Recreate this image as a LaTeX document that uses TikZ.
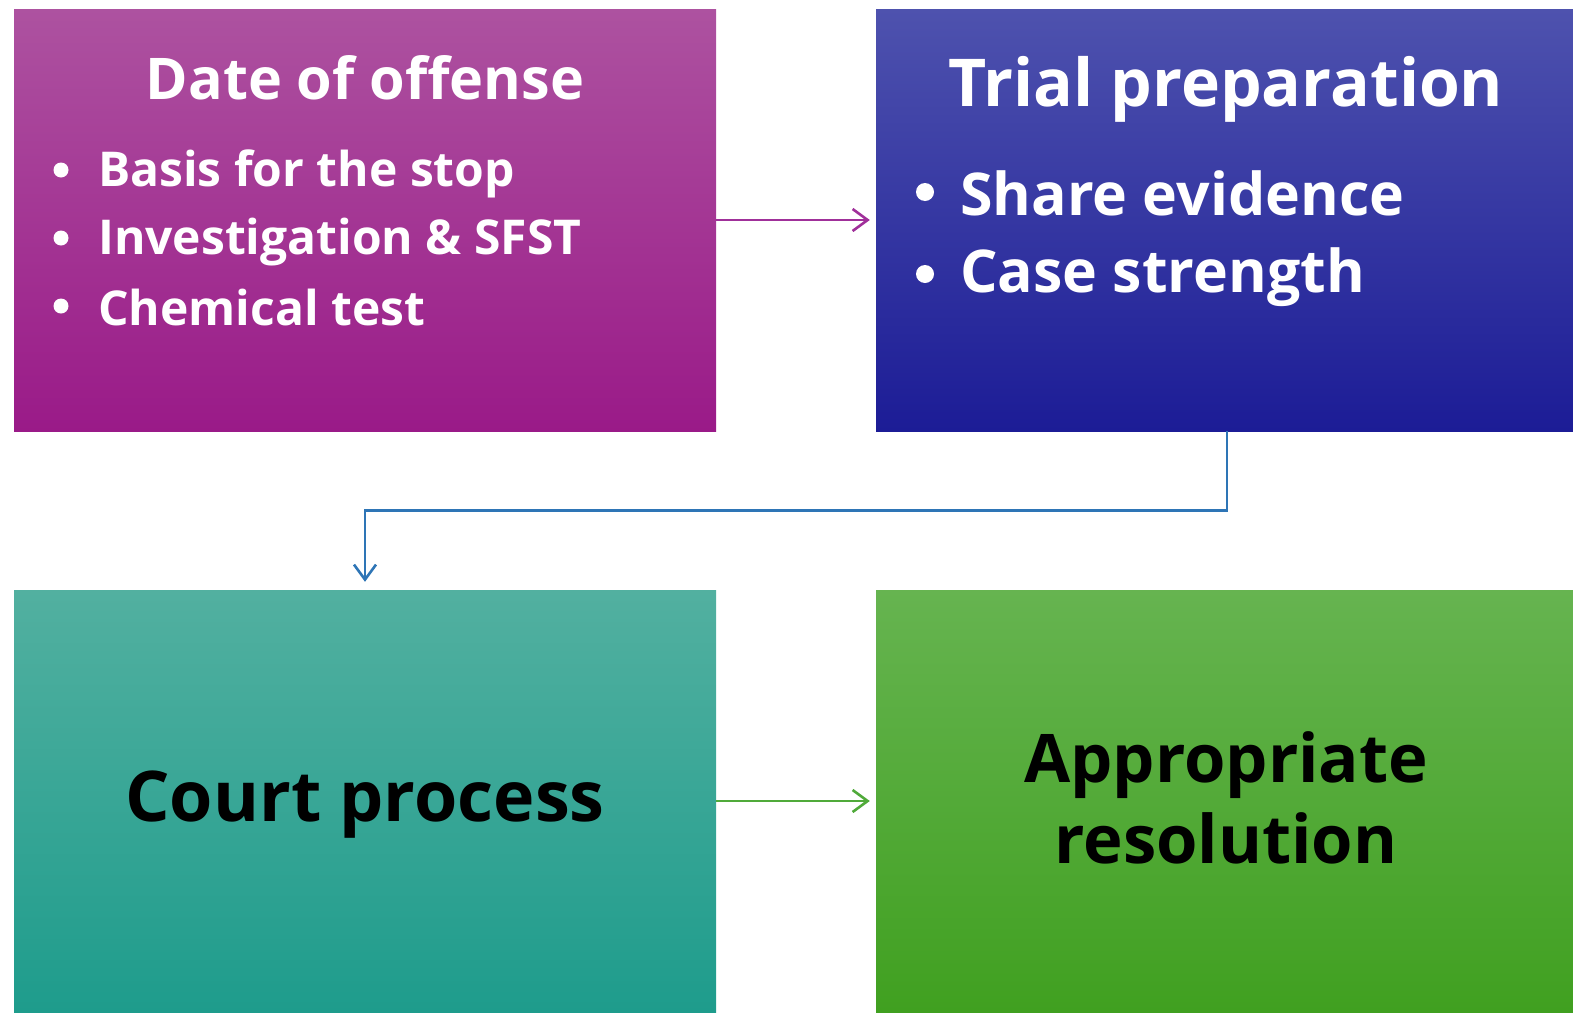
\documentclass[tikz,border=0pt]{standalone}
\usepackage{fontspec}
\setmainfont{Open Sans}
\usetikzlibrary{arrows.meta}
\definecolor{aTop}{HTML}{AD52A0}
\definecolor{aBot}{HTML}{9A1A88}
\definecolor{bTop}{HTML}{4E52AE}
\definecolor{bBot}{HTML}{1C1C96}
\definecolor{cTop}{HTML}{52B0A0}
\definecolor{cBot}{HTML}{1E9C8C}
\definecolor{dTop}{HTML}{66B450}
\definecolor{dBot}{HTML}{40A020}
\definecolor{arrA}{HTML}{A0309A}
\definecolor{arrB}{HTML}{2E75B6}
\definecolor{arrC}{HTML}{50AA3A}
\tikzset{
  box/.style={rectangle, draw=none, minimum width=702pt, minimum height=422pt, inner sep=0pt},
  conn/.style={line width=2.6pt, -{Straight Barb[length=15pt,width=22pt,line width=2.6pt]}},
  title/.style={text=white, font=\bfseries\fontsize{57.5}{64}\selectfont, inner sep=0pt},
  item/.style={text=white, font=\bfseries\fontsize{48}{56}\selectfont, anchor=west, inner sep=0pt},
  bitem/.style={text=white, font=\bfseries\fontsize{59}{66}\selectfont, anchor=west, inner sep=0pt},
  dot/.style={circle, fill=white, inner sep=0pt, minimum size=15pt},
  big/.style={text=black, font=\bfseries\fontsize{70}{82}\selectfont, inner sep=0pt, align=center}
}
\begin{document}
\begin{tikzpicture}[x=1pt,y=-1pt]
\useasboundingbox (0,0) rectangle (1573,1012);
\begin{scope}
\clip (0,0) rectangle (1573,1012);
\node[box, top color=aTop, bottom color=aBot] (A) at (365,220) {};
\node[box, top color=bTop, bottom color=bBot] (B) at (1227,220) {};
\node[box, top color=cTop, bottom color=cBot] (C) at (365,801) {};
\node[box, top color=dTop, bottom color=dBot] (D) at (1227,801) {};
\end{scope}
% texts A
\node[title] (At) at (365,78) {Date of offense};
\node[dot] (Ad1) at (61,170) {};
\node[item] (A1) at (98,174) {Basis for the stop};
\node[dot] (Ad2) at (61,238) {};
\node[item] (A2) at (98,242) {Investigation \& SFST};
\node[dot] (Ad3) at (61,306) {};
\node[item] (A3) at (98,307) {Chemical test};
% texts B
\node[title, font=\bfseries\fontsize{66}{72}\selectfont] (Bt) at (1226,89) {Trial preparation};
\node[dot, minimum size=18pt] (Bd1) at (925,192) {};
\node[bitem] (B1) at (960,193) {Share evidence};
\node[dot, minimum size=18pt] (Bd2) at (925,274) {};
\node[bitem] (B2) at (960,277) {Case strength};
% texts C, D
\node[big] (Ct) at (365,805) {Court process};
\node[big, font=\bfseries\fontsize{67}{81}\selectfont] (Dt) at (1226,798) {Appropriate\\resolution};
% connectors
\draw[conn, draw=arrA, shorten >=6pt] (A.east) -- (A.east -| B.west);
\draw[conn, draw=arrB, shorten >=8pt] (B.south) -- ++(0,79) -| (C.north);
\draw[conn, draw=arrC, shorten >=6pt] (C.east) -- (C.east -| D.west);
\end{tikzpicture}
\end{document}
